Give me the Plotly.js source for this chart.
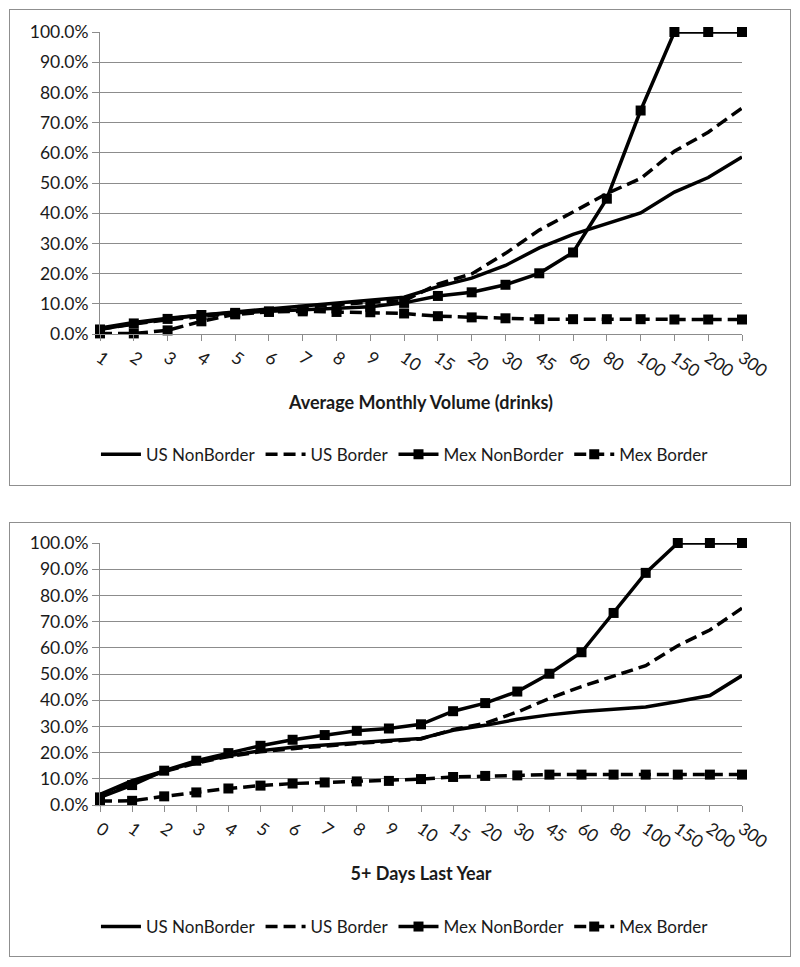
<!DOCTYPE html>
<html><head><meta charset="utf-8">
<script src="https://cdn.plot.ly/plotly-3.0.1.min.js"></script>
<style>
body{margin:0;background:#fff;}
.box{position:absolute;left:9px;width:780px;border:1px solid #8f8f8f;}
</style></head><body>
<div id="c1" class="box" style="top:9px;height:475px;"></div>
<div id="c2" class="box" style="top:522px;height:433px;"></div>
<script>
// Panel 1: Average Monthly Volume (drinks)
const volCats = ["1","2","3","4","5","6","7","8","9","10","15","20","30","45","60","80","100","150","200","300"];
const volUSNonBorder = [0.020,0.038,0.052,0.063,0.073,0.083,0.093,0.102,0.112,0.122,0.157,0.185,0.227,0.285,0.330,0.366,0.401,0.470,0.518,0.586];
const volUSBorder    = [0.016,0.033,0.047,0.059,0.069,0.079,0.089,0.097,0.105,0.110,0.165,0.199,0.267,0.344,0.404,0.465,0.515,0.605,0.668,0.748];
const volMexNonBorder= [0.015,0.035,0.050,0.063,0.070,0.075,0.080,0.085,0.090,0.103,0.126,0.138,0.163,0.201,0.270,0.448,0.740,1.000,1.000,1.000];
const volMexBorder   = [0.002,0.002,0.012,0.042,0.065,0.073,0.075,0.073,0.072,0.068,0.059,0.055,0.052,0.049,0.049,0.049,0.049,0.048,0.048,0.048];

// Panel 2: 5+ Days Last Year
const dayCats = ["0","1","2","3","4","5","6","7","8","9","10","15","20","30","45","60","80","100","150","200","300"];
const dayUSNonBorder = [0.040,0.093,0.130,0.163,0.188,0.207,0.220,0.230,0.238,0.246,0.254,0.285,0.304,0.327,0.344,0.357,0.367,0.374,0.395,0.418,0.494];
const dayUSBorder    = [0.030,0.088,0.128,0.160,0.185,0.203,0.215,0.226,0.235,0.243,0.252,0.288,0.312,0.355,0.407,0.452,0.492,0.532,0.608,0.668,0.751];
const dayMexNonBorder= [0.029,0.076,0.131,0.169,0.198,0.226,0.249,0.267,0.283,0.292,0.308,0.358,0.389,0.433,0.501,0.583,0.733,0.886,1.000,1.000,1.000];
const dayMexBorder   = [0.015,0.016,0.033,0.048,0.063,0.074,0.082,0.086,0.090,0.092,0.099,0.107,0.111,0.113,0.116,0.116,0.116,0.116,0.116,0.116,0.116];

const seriesNames = ["US NonBorder","US Border","Mex NonBorder","Mex Border"];
const FONT = "Lato, 'Open Sans', sans-serif";
const GRID = "#8c8c8c";
const FS = 17.5;

function traces(cats, ys){
  const styles = [
    {dash:"solid", marker:false},
    {dash:"12px,6px", marker:false},
    {dash:"solid", marker:true},
    {dash:"12px,6px", marker:true}
  ];
  return ys.map((y,i)=>({
    type:"scatter",
    mode: styles[i].marker ? "lines+markers" : "lines",
    x: cats, y: y, name: seriesNames[i],
    line:{color:"#000", width:3.5, dash:styles[i].dash},
    marker:{symbol:"square", size:10, color:"#000"},
    cliponaxis:false
  }));
}

function layout(cats, title, t, b, legY, ph){
  return {
    width:780, height: t + b + ph,
    margin:{l:90, r:48, t:t, b:b},
    paper_bgcolor:"#fff", plot_bgcolor:"#fff",
    font:{family:FONT, size:FS, color:"#1a1a1a"},
    showlegend:true,
    xaxis:{
      type:"category", range:[0, cats.length-1],
      tickangle:35, ticks:"outside", ticklen:6, tickcolor:GRID,
      showgrid:false, showline:true, linecolor:GRID, linewidth:1,
      tickfont:{size:FS},
      title:{text:title, font:{size:18, weight:"bold"}, standoff:16}
    },
    yaxis:{
      range:[0,1], dtick:0.1, tick0:0, tickformat:".1%",
      ticks:"outside", ticklen:7, tickcolor:GRID,
      showgrid:true, gridcolor:GRID, gridwidth:1,
      showline:true, linecolor:GRID, zeroline:false,
      tickfont:{size:FS}
    },
    legend:{orientation:"h", x:0.475, xanchor:"center", y:legY, yanchor:"middle",
      font:{size:17}, itemwidth:40, bgcolor:"rgba(0,0,0,0)"}
  };
}

Plotly.newPlot("c1",
  traces(volCats,[volUSNonBorder,volUSBorder,volMexNonBorder,volMexBorder]),
  layout(volCats,"Average Monthly Volume (drinks)",22,151,-0.40,302),
  {staticPlot:true});
Plotly.newPlot("c2",
  traces(dayCats,[dayUSNonBorder,dayUSBorder,dayMexNonBorder,dayMexBorder]),
  layout(dayCats,"5+ Days Last Year",20,150,-0.46,263),
  {staticPlot:true});
</script>
</body></html>
